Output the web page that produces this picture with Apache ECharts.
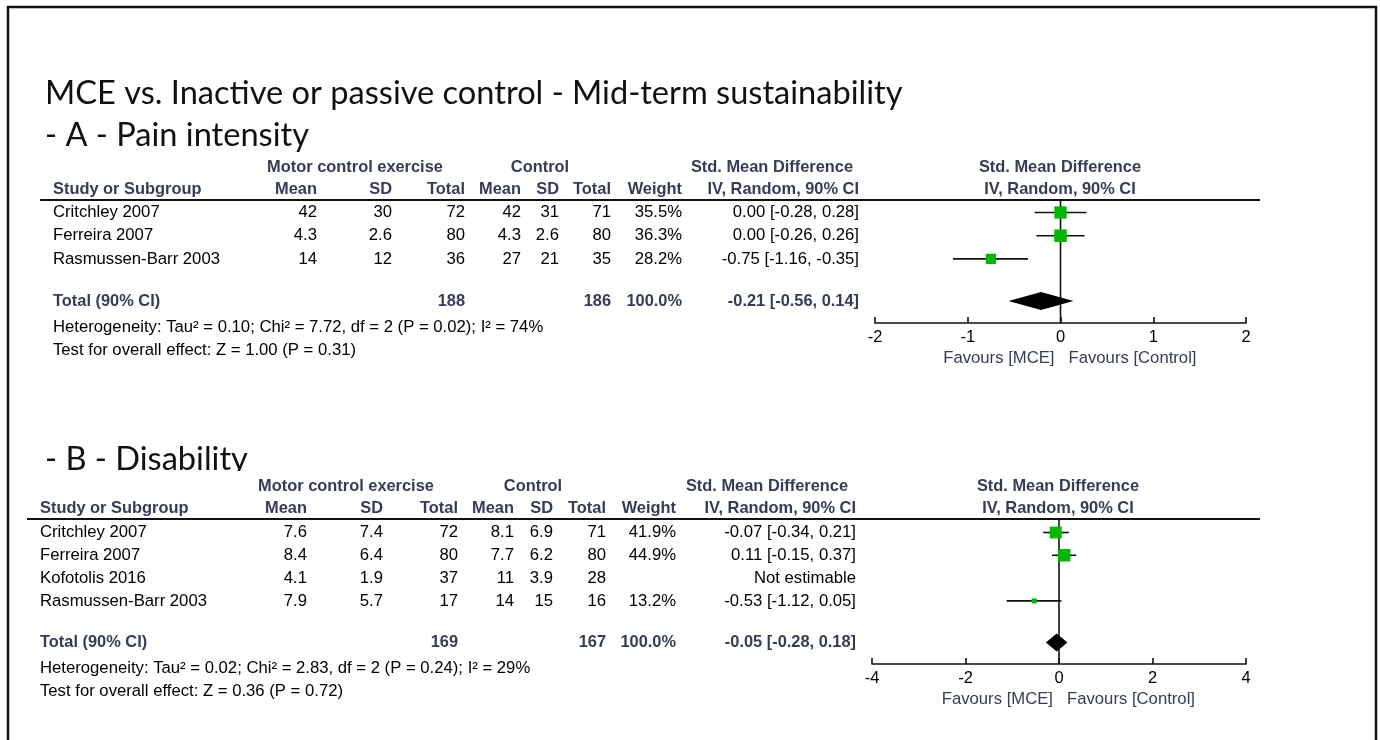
<!DOCTYPE html>
<html>
<head>
<meta charset="utf-8">
<script src="https://cdn.jsdelivr.net/npm/echarts@6/dist/echarts.min.js"></script>
<style>
  html, body { margin: 0; padding: 0; background: #fff; }
  #chart { width: 1380px; height: 740px; }
</style>
</head>
<body>
<div id="chart"></div>
<script>
// ---- Data: A - Pain intensity ----
const studiesA   = ['Critchley 2007', 'Ferreira 2007', 'Rasmussen-Barr 2003'];
const mceMeanA   = ['42', '4.3', '14'];
const mceSdA     = ['30', '2.6', '12'];
const mceNA      = [72, 80, 36];
const ctlMeanA   = ['42', '4.3', '27'];
const ctlSdA     = ['31', '2.6', '21'];
const ctlNA      = [71, 80, 35];
const weightA    = [35.5, 36.3, 28.2];
const smdA       = [0.00, 0.00, -0.75];
const lowA       = [-0.28, -0.26, -1.16];
const highA      = [0.28, 0.26, -0.35];
const totalA     = { mceN: 188, ctlN: 186, weight: 100.0, smd: -0.21, low: -0.56, high: 0.14 };
const hetA       = 'Heterogeneity: Tau\u00B2 = 0.10; Chi\u00B2 = 7.72, df = 2 (P = 0.02); I\u00B2 = 74%';
const effectA    = 'Test for overall effect: Z = 1.00 (P = 0.31)';
const ticksA     = { min: -2, max: 2, step: 1 };

// ---- Data: B - Disability ----
const studiesB   = ['Critchley 2007', 'Ferreira 2007', 'Kofotolis 2016', 'Rasmussen-Barr 2003'];
const mceMeanB   = ['7.6', '8.4', '4.1', '7.9'];
const mceSdB     = ['7.4', '6.4', '1.9', '5.7'];
const mceNB      = [72, 80, 37, 17];
const ctlMeanB   = ['8.1', '7.7', '11', '14'];
const ctlSdB     = ['6.9', '6.2', '3.9', '15'];
const ctlNB      = [71, 80, 28, 16];
const weightB    = [41.9, 44.9, null, 13.2];
const smdB       = [-0.07, 0.11, null, -0.53];
const lowB       = [-0.34, -0.15, null, -1.12];
const highB      = [0.21, 0.37, null, 0.05];
const totalB     = { mceN: 169, ctlN: 167, weight: 100.0, smd: -0.05, low: -0.28, high: 0.18 };
const hetB       = 'Heterogeneity: Tau\u00B2 = 0.02; Chi\u00B2 = 2.83, df = 2 (P = 0.24); I\u00B2 = 29%';
const effectB    = 'Test for overall effect: Z = 0.36 (P = 0.72)';
const ticksB     = { min: -4, max: 4, step: 2 };

const mainTitle  = 'MCE vs. Inactive or passive control - Mid-term sustainability';
const titleA     = '- A - Pain intensity';
const titleB     = '- B - Disability';

// ---- Styling ----
const FONT = '"Liberation Sans", Arial, sans-serif';
const TITLE_FONT = 'Lato, "Open Sans", sans-serif';
const HEAD = '#363b5c';
const GREEN = '#00b800';
const BODY_SIZE = 16.7;
const HEAD_SIZE = 16.4;

// ---- Layout for each panel ----
const panels = [
  {
    studies: studiesA, mceMean: mceMeanA, mceSd: mceSdA, mceN: mceNA,
    ctlMean: ctlMeanA, ctlSd: ctlSdA, ctlN: ctlNA, weight: weightA,
    smd: smdA, low: lowA, high: highA, total: totalA, het: hetA, effect: effectA, ticks: ticksA,
    title: titleA, titleY: 135,
    lineY: 200, lineX0: 40, rowTop: 212.5, rowStep: 23.2, axisY: 323,
    plotLeft: 875, plotRight: 1246,
    col: { name: 53, mMean: 317, mSd: 392, mN: 465, cMean: 521, cSd: 559, cN: 611, w: 682, ci: 859,
           mHead: 355, cHead: 540, sHead: 772, pHead: 1060 }
  },
  {
    studies: studiesB, mceMean: mceMeanB, mceSd: mceSdB, mceN: mceNB,
    ctlMean: ctlMeanB, ctlSd: ctlSdB, ctlN: ctlNB, weight: weightB,
    smd: smdB, low: lowB, high: highB, total: totalB, het: hetB, effect: effectB, ticks: ticksB,
    title: titleB, titleY: 459,
    lineY: 519, lineX0: 27, rowTop: 532.5, rowStep: 22.8, axisY: 664,
    plotLeft: 872, plotRight: 1246,
    col: { name: 40, mMean: 307, mSd: 383, mN: 458, cMean: 514, cSd: 553, cN: 606, w: 676, ci: 856,
           mHead: 346, cHead: 533, sHead: 767, pHead: 1058 }
  }
];
const TOTAL_GAP = 0.82;   // extra row spacing before the pooled row

const fmt2 = v => v.toFixed(2);
const ciText = (s, l, h) => fmt2(s) + ' [' + fmt2(l) + ', ' + fmt2(h) + ']';

function txt(x, y, text, opt) {
  opt = opt || {};
  const align = opt.align || 'left';
  const size = opt.size || (opt.bold ? HEAD_SIZE : BODY_SIZE);
  return {
    type: 'text', x: x, y: y, z: opt.z || 10, silent: true,
    style: {
      text: text,
      font: (opt.bold ? 'bold ' : '') + size + 'px ' + (opt.family || FONT),
      fill: opt.color || '#000',
      textAlign: align, align: align,
      textVerticalAlign: 'middle', verticalAlign: 'middle'
    }
  };
}

const graphics = [];
// outer frame
graphics.push({ type: 'rect', z: 20, silent: true,
  shape: { x: 8, y: 7, width: 1368, height: 780 },
  style: { fill: 'none', stroke: '#111', lineWidth: 2.5 } });
graphics.push(txt(45, 93, mainTitle, { size: 32.6, family: TITLE_FONT, color: '#111' }));

panels.forEach((p, pi) => {
  const c = p.col;
  const rowY = i => p.rowTop + i * p.rowStep;
  p.totalIdx = p.studies.length + TOTAL_GAP;   // row index of the pooled estimate
  const tY = rowY(p.totalIdx);

  graphics.push(txt(45, p.titleY, p.title, { size: 32.6, family: TITLE_FONT, color: '#111', z: 5 }));
  if (pi === 1) {
    // header block overlaps the bottom of this heading
    graphics.push({ type: 'rect', z: 6, silent: true,
      shape: { x: 30, y: 471, width: 230, height: 7 }, style: { fill: '#fff' } });
  }
  const hY2 = p.lineY - 11, hY1 = p.lineY - 33;
  const H = { bold: true, color: HEAD };
  const HR = { bold: true, color: HEAD, align: 'right' };
  const HC = { bold: true, color: HEAD, align: 'center' };
  graphics.push(txt(c.mHead, hY1, 'Motor control exercise', HC));
  graphics.push(txt(c.cHead, hY1, 'Control', HC));
  graphics.push(txt(c.sHead, hY1, 'Std. Mean Difference', HC));
  graphics.push(txt(c.pHead, hY1, 'Std. Mean Difference', HC));
  graphics.push(txt(c.name, hY2, 'Study or Subgroup', H));
  graphics.push(txt(c.mMean, hY2, 'Mean', HR));
  graphics.push(txt(c.mSd, hY2, 'SD', HR));
  graphics.push(txt(c.mN, hY2, 'Total', HR));
  graphics.push(txt(c.cMean, hY2, 'Mean', HR));
  graphics.push(txt(c.cSd, hY2, 'SD', HR));
  graphics.push(txt(c.cN, hY2, 'Total', HR));
  graphics.push(txt(c.w, hY2, 'Weight', HR));
  graphics.push(txt(c.ci, hY2, 'IV, Random, 90% CI', HR));
  graphics.push(txt(c.pHead, hY2, 'IV, Random, 90% CI', HC));
  graphics.push({ type: 'line', z: 8, silent: true,
    shape: { x1: p.lineX0, y1: p.lineY, x2: 1260, y2: p.lineY },
    style: { stroke: '#111', lineWidth: 1.8 } });

  const R = { align: 'right' };
  p.studies.forEach((s, i) => {
    const y = rowY(i);
    graphics.push(txt(c.name, y, s));
    graphics.push(txt(c.mMean, y, p.mceMean[i], R));
    graphics.push(txt(c.mSd, y, p.mceSd[i], R));
    graphics.push(txt(c.mN, y, String(p.mceN[i]), R));
    graphics.push(txt(c.cMean, y, p.ctlMean[i], R));
    graphics.push(txt(c.cSd, y, p.ctlSd[i], R));
    graphics.push(txt(c.cN, y, String(p.ctlN[i]), R));
    if (p.weight[i] != null) graphics.push(txt(c.w, y, p.weight[i].toFixed(1) + '%', R));
    graphics.push(txt(c.ci, y, p.smd[i] == null ? 'Not estimable' : ciText(p.smd[i], p.low[i], p.high[i]), R));
  });
  graphics.push(txt(c.name, tY, 'Total (90% CI)', H));
  graphics.push(txt(c.mN, tY, String(p.total.mceN), HR));
  graphics.push(txt(c.cN, tY, String(p.total.ctlN), HR));
  graphics.push(txt(c.w, tY, p.total.weight.toFixed(1) + '%', HR));
  graphics.push(txt(c.ci, tY, ciText(p.total.smd, p.total.low, p.total.high), HR));
  graphics.push(txt(c.name, tY + 26, p.het));
  graphics.push(txt(c.name, tY + 49, p.effect));

  const zeroX = p.plotLeft + (p.plotRight - p.plotLeft) * (0 - p.ticks.min) / (p.ticks.max - p.ticks.min);
  graphics.push(txt(zeroX - 6, p.axisY + 35, 'Favours [MCE]', { align: 'right', color: HEAD }));
  graphics.push(txt(zeroX + 8, p.axisY + 35, 'Favours [Control]', { color: HEAD }));
});

// ---- Forest plots ----
const grids = [], xAxes = [], yAxes = [], series = [];
panels.forEach((p, pi) => {
  grids.push({ left: p.plotLeft, width: p.plotRight - p.plotLeft, top: p.lineY, height: p.axisY - p.lineY });
  xAxes.push({
    gridIndex: pi, type: 'value', min: p.ticks.min, max: p.ticks.max, interval: p.ticks.step,
    axisLine: { show: true, onZero: false, lineStyle: { color: '#111', width: 1.6 } },
    axisTick: { show: true, inside: true, length: 6, lineStyle: { color: '#111', width: 1.6 } },
    axisLabel: { color: '#000', fontSize: 16.5, fontFamily: FONT, margin: 6 },
    splitLine: { show: false }
  });
  yAxes.push({
    gridIndex: pi, type: 'value', inverse: true, show: false,
    min: (p.lineY - p.rowTop) / p.rowStep, max: (p.axisY - p.rowTop) / p.rowStep
  });
  const maxW = Math.max(...p.weight.filter(w => w != null));
  const studyData = [];
  p.studies.forEach((s, i) => {
    if (p.smd[i] != null) studyData.push([p.smd[i], p.low[i], p.high[i], i, p.weight[i]]);
  });
  // line of no effect
  series.push({
    type: 'custom', xAxisIndex: pi, yAxisIndex: pi, z: 1, silent: true, data: [[0]],
    renderItem: (params, api) => {
      const cs = params.coordSys;
      const x = api.coord([api.value(0), 0])[0];
      return { type: 'line', shape: { x1: x, y1: cs.y, x2: x, y2: cs.y + cs.height },
               style: { stroke: '#111', lineWidth: 1.6 } };
    }
  });
  // study estimates with confidence intervals
  series.push({
    type: 'custom', xAxisIndex: pi, yAxisIndex: pi, z: 3, silent: true, data: studyData,
    renderItem: (params, api) => {
      const y = api.value(3);
      const a = api.coord([api.value(1), y]);
      const b = api.coord([api.value(2), y]);
      const m = api.coord([api.value(0), y]);
      const s = 12.5 * Math.pow(api.value(4) / maxW, 0.75);
      return { type: 'group', children: [
        { type: 'line', shape: { x1: a[0], y1: a[1], x2: b[0], y2: b[1] }, style: { stroke: '#111', lineWidth: 1.6 } },
        { type: 'rect', shape: { x: m[0] - s / 2, y: m[1] - s / 2, width: s, height: s }, style: { fill: GREEN } }
      ] };
    }
  });
  // pooled estimate
  series.push({
    type: 'custom', xAxisIndex: pi, yAxisIndex: pi, z: 4, silent: true,
    data: [[p.total.smd, p.total.low, p.total.high, p.totalIdx]],
    renderItem: (params, api) => {
      const y = api.value(3);
      const a = api.coord([api.value(1), y]);
      const b = api.coord([api.value(2), y]);
      const m = api.coord([api.value(0), y]);
      const h = 9;
      return { type: 'polygon', shape: { points: [[a[0], a[1]], [m[0], m[1] - h], [b[0], b[1]], [m[0], m[1] + h]] },
               style: { fill: '#000' } };
    }
  });
});

const chart = echarts.init(document.getElementById('chart'), null, { renderer: 'canvas' });
chart.setOption({
  backgroundColor: '#fff',
  animation: false,
  grid: grids, xAxis: xAxes, yAxis: yAxes, series: series,
  graphic: { elements: graphics }
});
</script>
</body>
</html>
